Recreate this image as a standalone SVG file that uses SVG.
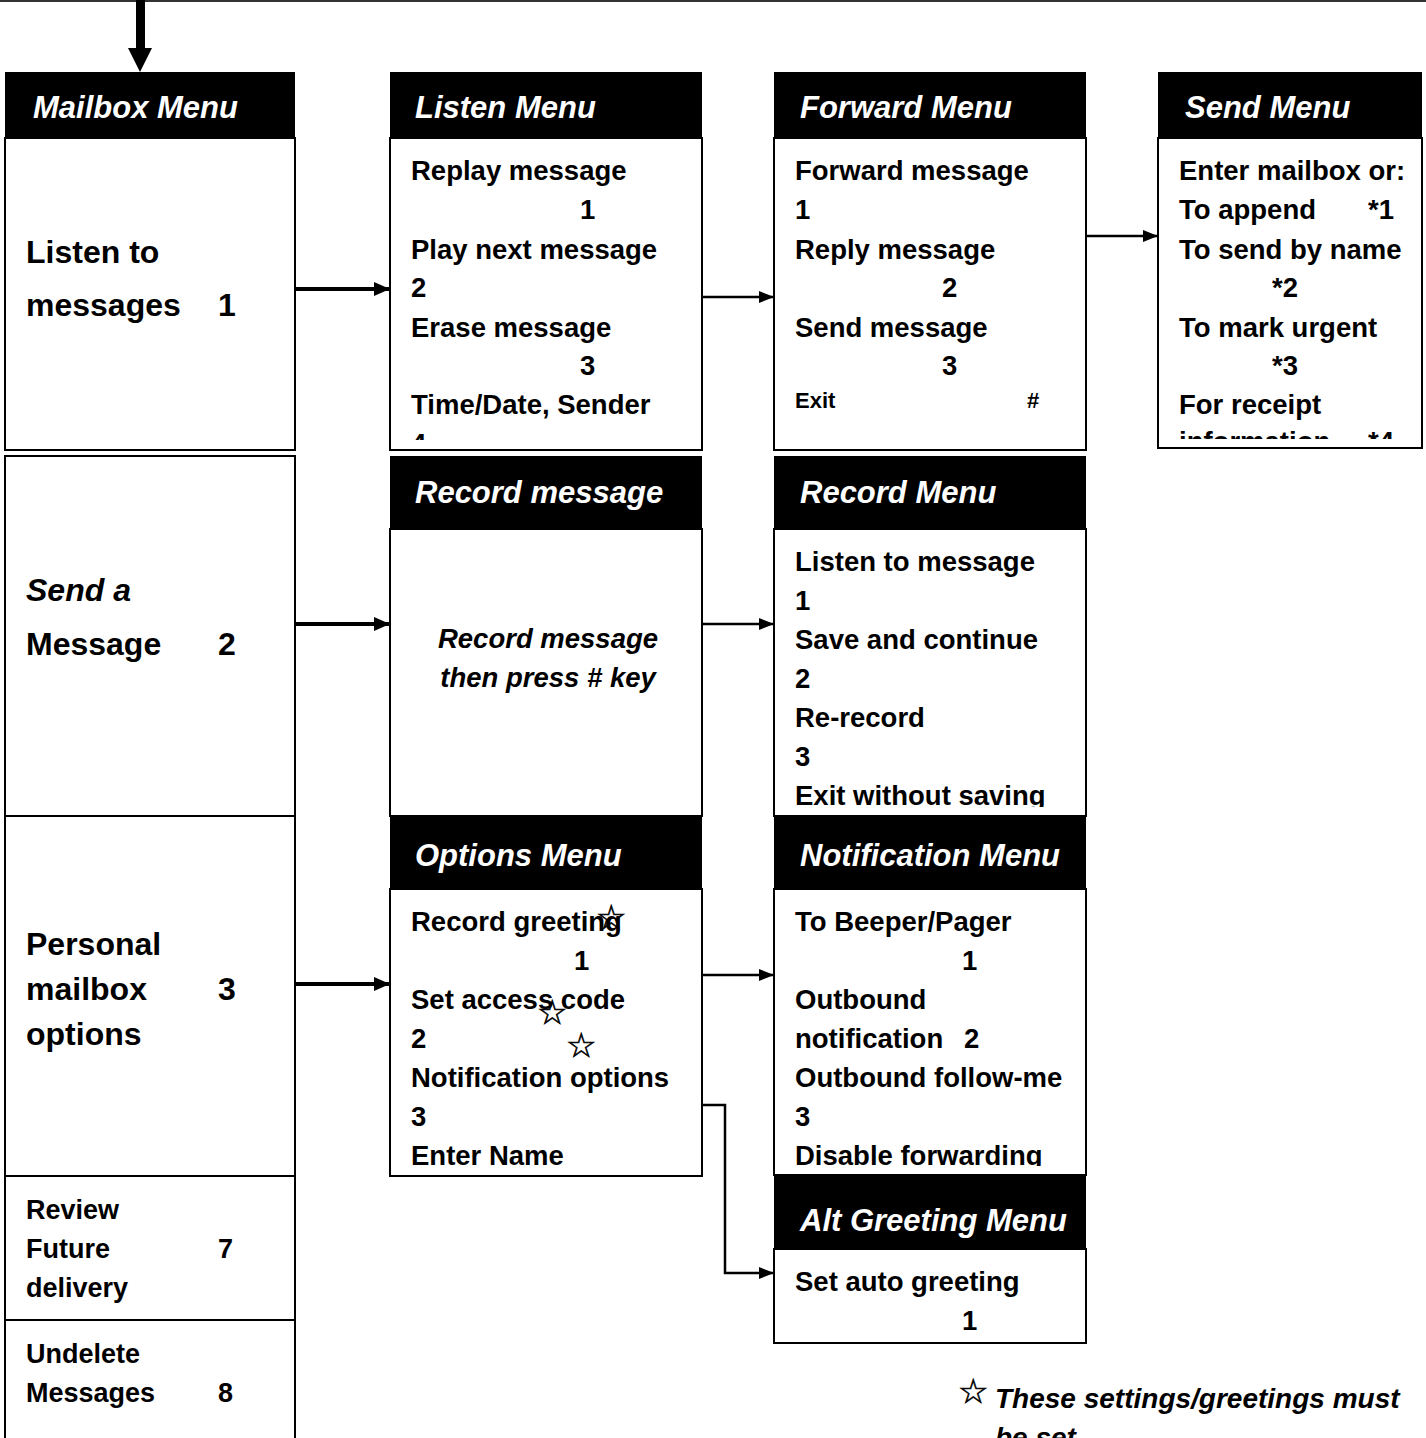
<svg xmlns="http://www.w3.org/2000/svg" width="1426" height="1438" viewBox="0 0 1426 1438">
<style>
.hdr{fill:#000}
.box{fill:#fff;stroke:#000;stroke-width:2}
.ht{font-family:"Liberation Sans",Arial,sans-serif;font-weight:bold;font-style:italic;font-size:31px;fill:#fff}
.bt{font-family:"Liberation Sans",Arial,sans-serif;font-weight:bold;font-size:27.5px;fill:#000}
.bi{font-family:"Liberation Sans",Arial,sans-serif;font-weight:bold;font-style:italic;font-size:27.5px;fill:#000}
.sm{font-family:"Liberation Sans",Arial,sans-serif;font-weight:bold;font-size:22px;fill:#000}
.lt{font-family:"Liberation Sans",Arial,sans-serif;font-weight:bold;font-size:32px;fill:#000}
.li{font-family:"Liberation Sans",Arial,sans-serif;font-weight:bold;font-style:italic;font-size:32px;fill:#000}
.st{font-family:"Liberation Sans",Arial,sans-serif;font-weight:bold;font-size:27px;fill:#000}
.star{font-family:"DejaVu Sans",sans-serif;font-size:34px;fill:#000;stroke:#000;stroke-width:0.6}
.thick{stroke:#000;stroke-width:4;fill:none}
.thin{stroke:#000;stroke-width:2.5;fill:none}
</style>
<defs>
<marker id="ahThick" markerUnits="userSpaceOnUse" markerWidth="16" markerHeight="14" refX="16" refY="7" orient="auto"><path d="M0,0 L16,7 L0,14 z" fill="#000"/></marker>
<marker id="ahThin" markerUnits="userSpaceOnUse" markerWidth="15" markerHeight="12" refX="15" refY="6" orient="auto"><path d="M0,0 L15,6 L0,12 z" fill="#000"/></marker>
<clipPath id="clipListen"><rect x="390" y="139" width="312" height="301"/></clipPath>
<clipPath id="clipSend"><rect x="1158" y="139" width="264" height="300"/></clipPath>
<clipPath id="clipRecMenu"><rect x="774" y="530" width="312" height="277"/></clipPath>
<clipPath id="clipNotif"><rect x="774" y="890" width="312" height="276"/></clipPath>
</defs>

<line x1="0" y1="1" x2="1426" y2="1" stroke="#333" stroke-width="2"/>

<g id="entry-arrow">
<rect x="136" y="0" width="9" height="50" fill="#000"/>
<polygon points="128,48 152,48 140,72" fill="#000"/>
</g>

<g id="mailbox-menu">
<rect class="hdr" x="5" y="72" width="290" height="66"/>
<text class="ht" x="33" y="118">Mailbox Menu</text>
</g>

<g id="listen-to-messages">
<rect class="box" x="5" y="138" width="290" height="312"/>
<text class="lt" x="26" y="263">Listen to</text>
<text class="lt" x="26" y="316">messages</text>
<text class="lt" x="218" y="316">1</text>
</g>

<g id="send-a-message">
<rect class="box" x="5" y="456" width="290" height="360"/>
<text class="li" x="26" y="601">Send a</text>
<text class="lt" x="26" y="655">Message</text>
<text class="lt" x="218" y="655">2</text>
</g>

<g id="personal-options">
<rect class="box" x="5" y="816" width="290" height="360"/>
<text class="lt" x="26" y="955">Personal</text>
<text class="lt" x="26" y="1000">mailbox</text>
<text class="lt" x="218" y="1000">3</text>
<text class="lt" x="26" y="1045">options</text>
</g>

<g id="review-future">
<rect class="box" x="5" y="1176" width="290" height="144"/>
<text class="st" x="26" y="1219">Review</text>
<text class="st" x="26" y="1258">Future</text>
<text class="st" x="218" y="1258">7</text>
<text class="st" x="26" y="1297">delivery</text>
</g>

<g id="undelete">
<rect class="box" x="5" y="1320" width="290" height="130"/>
<text class="st" x="26" y="1363">Undelete</text>
<text class="st" x="26" y="1402">Messages</text>
<text class="st" x="218" y="1402">8</text>
</g>

<g id="listen-menu">
<rect class="hdr" x="390" y="72" width="312" height="66"/>
<text class="ht" x="415" y="118">Listen Menu</text>
<rect class="box" x="390" y="138" width="312" height="312"/>
<g clip-path="url(#clipListen)">
<text class="bt" x="411" y="180">Replay message</text>
<text class="bt" x="580" y="219">1</text>
<text class="bt" x="411" y="259">Play next message</text>
<text class="bt" x="411" y="297">2</text>
<text class="bt" x="411" y="337">Erase message</text>
<text class="bt" x="580" y="375">3</text>
<text class="bt" x="411" y="414">Time/Date, Sender</text>
<text class="bt" x="411" y="453">4</text>
</g>
</g>

<g id="forward-menu">
<rect class="hdr" x="774" y="72" width="312" height="66"/>
<text class="ht" x="800" y="118">Forward Menu</text>
<rect class="box" x="774" y="138" width="312" height="312"/>
<text class="bt" x="795" y="180">Forward message</text>
<text class="bt" x="795" y="219">1</text>
<text class="bt" x="795" y="259">Reply message</text>
<text class="bt" x="942" y="297">2</text>
<text class="bt" x="795" y="337">Send message</text>
<text class="bt" x="942" y="375">3</text>
<text class="sm" x="795" y="408">Exit</text>
<text class="sm" x="1027" y="408">#</text>
</g>

<g id="send-menu">
<rect class="hdr" x="1158" y="72" width="264" height="66"/>
<text class="ht" x="1185" y="118">Send Menu</text>
<rect class="box" x="1158" y="138" width="264" height="310"/>
<g clip-path="url(#clipSend)">
<text class="bt" x="1179" y="180">Enter mailbox or:</text>
<text class="bt" x="1179" y="219">To append</text>
<text class="bt" x="1368" y="219">*1</text>
<text class="bt" x="1179" y="259">To send by name</text>
<text class="bt" x="1272" y="297">*2</text>
<text class="bt" x="1179" y="337">To mark urgent</text>
<text class="bt" x="1272" y="375">*3</text>
<text class="bt" x="1179" y="414">For receipt</text>
<text class="bt" x="1179" y="451">information</text>
<text class="bt" x="1368" y="451">*4</text>
</g>
</g>

<g id="record-message">
<rect class="hdr" x="390" y="456" width="312" height="73"/>
<text class="ht" x="415" y="503">Record message</text>
<rect class="box" x="390" y="529" width="312" height="287"/>
<text class="bi" x="548" y="648" text-anchor="middle">Record message</text>
<text class="bi" x="548" y="687" text-anchor="middle">then press # key</text>
</g>

<g id="record-menu">
<rect class="hdr" x="774" y="456" width="312" height="73"/>
<text class="ht" x="800" y="503">Record Menu</text>
<rect class="box" x="774" y="529" width="312" height="287"/>
<g clip-path="url(#clipRecMenu)">
<text class="bt" x="795" y="571">Listen to message</text>
<text class="bt" x="795" y="610">1</text>
<text class="bt" x="795" y="649">Save and continue</text>
<text class="bt" x="795" y="688">2</text>
<text class="bt" x="795" y="727">Re-record</text>
<text class="bt" x="795" y="766">3</text>
<text class="bt" x="795" y="805">Exit without saving</text>
</g>
</g>

<g id="options-menu">
<rect class="hdr" x="390" y="816" width="312" height="73"/>
<text class="ht" x="415" y="866">Options Menu</text>
<rect class="box" x="390" y="889" width="312" height="287"/>
<text class="bt" x="411" y="931">Record greeting</text>
<text class="bt" x="574" y="970">1</text>
<text class="bt" x="411" y="1009">Set access code</text>
<text class="bt" x="411" y="1048">2</text>
<text class="bt" x="411" y="1087">Notification options</text>
<text class="bt" x="411" y="1126">3</text>
<text class="bt" x="411" y="1165">Enter Name</text>
<text class="star" x="596" y="929">☆</text>
<text class="star" x="537" y="1024">☆</text>
<text class="star" x="566" y="1057">☆</text>
</g>

<g id="notification-menu">
<rect class="hdr" x="774" y="816" width="312" height="73"/>
<text class="ht" x="800" y="866">Notification Menu</text>
<rect class="box" x="774" y="889" width="312" height="286"/>
<g clip-path="url(#clipNotif)">
<text class="bt" x="795" y="931">To Beeper/Pager</text>
<text class="bt" x="962" y="970">1</text>
<text class="bt" x="795" y="1009">Outbound</text>
<text class="bt" x="795" y="1048">notification</text>
<text class="bt" x="964" y="1048">2</text>
<text class="bt" x="795" y="1087">Outbound follow-me</text>
<text class="bt" x="795" y="1126">3</text>
<text class="bt" x="795" y="1165">Disable forwarding</text>
</g>
</g>

<g id="alt-greeting-menu">
<rect class="hdr" x="774" y="1175" width="312" height="74"/>
<text class="ht" x="800" y="1231">Alt Greeting Menu</text>
<rect class="box" x="774" y="1249" width="312" height="94"/>
<text class="bt" x="795" y="1291">Set auto greeting</text>
<text class="bt" x="962" y="1330">1</text>
</g>

<g id="footnote">
<text class="star" x="958" y="1403">☆</text>
<text class="bi" x="995" y="1408" style="font-size:28px">These settings/greetings must</text>
<text class="bi" x="995" y="1447" style="font-size:28px">be set</text>
</g>

<g id="connectors">
<line class="thick" x1="296" y1="289" x2="390" y2="289" marker-end="url(#ahThick)"/>
<line class="thick" x1="296" y1="624" x2="390" y2="624" marker-end="url(#ahThick)"/>
<line class="thick" x1="296" y1="984" x2="390" y2="984" marker-end="url(#ahThick)"/>
<line class="thin" x1="703" y1="297" x2="774" y2="297" marker-end="url(#ahThin)"/>
<line class="thin" x1="1087" y1="236" x2="1158" y2="236" marker-end="url(#ahThin)"/>
<line class="thin" x1="703" y1="624" x2="774" y2="624" marker-end="url(#ahThin)"/>
<line class="thin" x1="703" y1="975" x2="774" y2="975" marker-end="url(#ahThin)"/>
<path class="thin" d="M703,1105 L725,1105 L725,1273 L774,1273" marker-end="url(#ahThin)"/>
</g>
</svg>
